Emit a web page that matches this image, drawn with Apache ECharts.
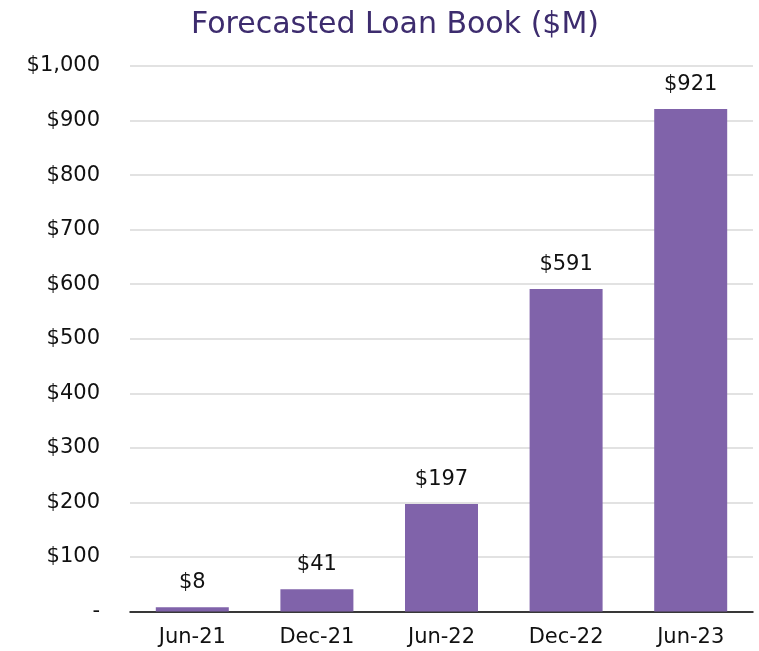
<!DOCTYPE html>
<html>
<head>
<meta charset="utf-8">
<script src="https://cdn.jsdelivr.net/npm/echarts@6/dist/echarts.min.js"></script>
<style>
  html, body { margin: 0; padding: 0; background: #fff; }
  #chart { width: 759px; height: 651px; }
</style>
</head>
<body>
<div id="chart"></div>
<script>
// periods and loan book values ($M)
const periods = ['Jun-21', 'Dec-21', 'Jun-22', 'Dec-22', 'Jun-23']
const loanBook = [8, 41, 197, 591, 921]
const yMin = 0
const yMax = 1000
const yStep = 100

const fmtMoney = v => v === 0 ? '-' : '$' + v.toLocaleString('en-US')
const FONT = 'DejaVu Sans'

const chart = echarts.init(document.getElementById('chart'))
chart.setOption({
  animation: false,
  title: {
    text: 'Forecasted Loan Book ($M)',
    left: 390,
    textAlign: 'center',
    top: 5,
    textStyle: { fontFamily: FONT, fontWeight: 'normal', fontSize: 30, color: '#3d2c6e' }
  },
  grid: { left: 130, right: 6, top: 66, bottom: 39.5, containLabel: false },
  xAxis: {
    type: 'category',
    data: periods,
    axisLine: { lineStyle: { color: '#000', width: 1.5 } },
    axisTick: { show: false },
    axisLabel: { margin: 16, fontFamily: FONT, fontSize: 21, color: '#111' }
  },
  yAxis: {
    type: 'value',
    min: yMin,
    max: yMax,
    interval: yStep,
    axisLine: { show: false },
    axisTick: { show: false },
    splitLine: { lineStyle: { color: '#d9d9d9', width: 1.5 } },
    axisLabel: { margin: 30, fontFamily: FONT, fontSize: 21, color: '#111', formatter: fmtMoney }
  },
  series: [{
    type: 'bar',
    data: loanBook,
    barWidth: 73,
    itemStyle: { color: '#8063aa' },
    label: {
      show: true,
      position: 'top',
      distance: 14,
      fontFamily: FONT,
      fontSize: 21,
      color: '#111',
      formatter: p => fmtMoney(p.value)
    }
  }]
})
</script>
</body>
</html>
